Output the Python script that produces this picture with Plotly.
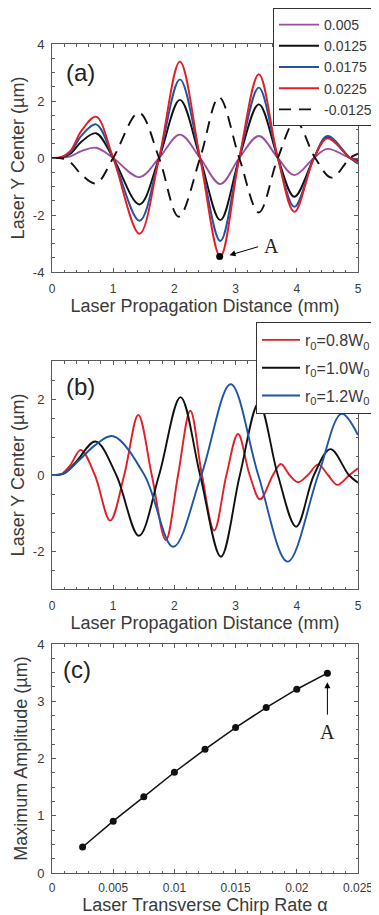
import plotly.graph_objects as go

# ---------------- data: panel (a) ----------------
xa = [0, 0.15, 0.3, 0.48, 0.72, 1.0, 1.43, 1.75, 2.09, 2.42, 2.75, 3.06, 3.38, 3.69, 3.96, 4.28, 4.5, 4.87, 5.0]
ya_0050 = [0, 0.01, 0.06, 0.24, 0.36, 0, -0.67, 0, 0.82, 0, -0.91, 0, 0.77, 0, -0.60, 0, 0.32, 0, -0.05]
ya_0125 = [0, 0.015, 0.15, 0.57, 0.87, 0, -1.63, 0, 2.04, 0, -2.18, 0, 1.88, 0, -1.36, 0, 0.74, 0, -0.10]
ya_0175 = [0, 0.02, 0.20, 0.78, 1.18, 0, -2.20, 0, 2.76, 0, -2.91, 0, 2.47, 0, -1.71, 0, 0.77, 0, -0.20]
ya_0225 = [0, 0.03, 0.25, 0.95, 1.45, 0, -2.66, 0, 3.38, 0, -3.46, 0, 2.94, 0, -1.89, 0, 0.69, 0, -0.13]
xa_neg = [0, 0.15, 0.3, 0.48, 0.72, 1.0, 1.42, 1.75, 2.07, 2.42, 2.73, 3.06, 3.38, 3.69, 3.98, 4.30, 4.57, 4.87, 5.0]
ya_neg0125 = [0, -0.01, -0.15, -0.58, -0.89, 0, 1.59, 0, -2.06, 0, 2.13, 0, -1.91, 0, 1.30, 0, -0.69, 0, 0.15]
names_a = ["0.005", "0.0125", "0.0175", "0.0225", "-0.0125"]
point_A = (2.74, -3.46)

# ---------------- data: panel (b) ----------------
xb_08 = [0, 0.15, 0.3, 0.47, 0.70, 0.95, 1.18, 1.41, 1.63, 1.86, 2.06, 2.26, 2.45, 2.65, 2.85, 3.04, 3.23, 3.40, 3.61, 3.74, 3.88, 4.02, 4.18, 4.35, 4.51, 4.66, 4.86, 5.0]
yb_08 = [0, 0.02, 0.26, 0.66, 0, -1.20, 0, 1.58, 0, -1.71, 0, 1.69, 0, -1.46, 0, 1.08, 0, -0.64, 0, 0.29, 0, -0.19, 0, 0.28, 0, -0.26, 0, 0.18]
xb_10 = [0, 0.2, 0.4, 0.71, 1.05, 1.42, 1.75, 2.10, 2.42, 2.76, 3.07, 3.38, 3.69, 3.99, 4.28, 4.55, 4.85, 5.0]
yb_10 = [0, 0.04, 0.36, 0.88, 0, -1.60, 0, 2.05, 0, -2.15, 0, 1.89, 0, -1.36, 0, 0.68, 0, -0.20]
xb_12 = [0, 0.2, 0.45, 0.7, 1.0, 1.51, 1.98, 2.44, 2.92, 3.37, 3.85, 4.35, 4.73, 5.0]
yb_12 = [0, 0.05, 0.40, 0.78, 1.02, 0, -1.89, 0, 2.39, 0, -2.28, 0, 1.61, 1.05]
names_b = ["r<sub>0</sub>=0.8W<sub>0</sub>", "r<sub>0</sub>=1.0W<sub>0</sub>", "r<sub>0</sub>=1.2W<sub>0</sub>"]

# ---------------- data: panel (c) ----------------
alpha = [0.0025, 0.005, 0.0075, 0.01, 0.0125, 0.015, 0.0175, 0.02, 0.0225]
max_amp = [0.455, 0.905, 1.33, 1.76, 2.16, 2.54, 2.89, 3.21, 3.49]

# tick labels
ya_ticks = [-4, -2, 0, 2, 4]
ya_ticktext = ["-4", "-2", "0", "2", "4"]
yb_ticks = [-2, 0, 2]
yb_ticktext = ["-2", "0", "2"]
x_ticks = [0, 1, 2, 3, 4, 5]
xc_ticks = [0, 0.005, 0.01, 0.015, 0.02, 0.025]
xc_ticktext = ["0", "0.005", "0.01", "0.015", "0.02", "0.025"]
yc_ticks = [0, 1, 2, 3, 4]

PURPLE = "#9B4F9F"
BLACK = "#111111"
BLUE = "#1F55A5"
RED = "#E41E26"
FONT = "Liberation Sans, Arial, sans-serif"
TXT = "#3a3a3a"
AX = "#5a5a5a"

fig = go.Figure()
LW = 1.9
sm = 1.0

for y, c, n in [(ya_0050, PURPLE, names_a[0]), (ya_0125, BLACK, names_a[1]),
                (ya_0175, BLUE, names_a[2]), (ya_0225, RED, names_a[3])]:
    fig.add_trace(go.Scatter(x=xa, y=y, mode="lines", name=n,
                             line=dict(color=c, width=LW, shape="spline", smoothing=sm),
                             xaxis="x", yaxis="y", legend="legend"))
fig.add_trace(go.Scatter(x=xa_neg, y=ya_neg0125, mode="lines", name=names_a[4],
                         line=dict(color=BLACK, width=LW, dash="12px,8px", shape="spline", smoothing=sm),
                         xaxis="x", yaxis="y", legend="legend"))
fig.add_trace(go.Scatter(x=[point_A[0]], y=[point_A[1]], mode="markers",
                         marker=dict(color="black", size=7), showlegend=False,
                         xaxis="x", yaxis="y"))

for i, (xx, yy, c, n) in enumerate([(xb_08, yb_08, RED, names_b[0]), (xb_10, yb_10, BLACK, names_b[1]),
                                    (xb_12, yb_12, BLUE, names_b[2])]):
    fig.add_trace(go.Scatter(x=xx, y=yy, mode="lines", name=n, legendgroup="b%d" % i,
                             line=dict(color=c, width=LW, shape="spline", smoothing=sm),
                             xaxis="x2", yaxis="y2", legend="legend2"))

fig.add_trace(go.Scatter(x=alpha, y=max_amp, mode="lines+markers", showlegend=False,
                         line=dict(color=BLACK, width=1.5),
                         marker=dict(color=BLACK, size=7),
                         xaxis="x3", yaxis="y3"))

# the page body adds an 8px offset: figure coords = reference coords - 8
OFF = 8
W, H = 379 - OFF, 915 - OFF
def dom(top, bot):
    return [1 - (bot - OFF) / H, 1 - (top - OFF) / H]

common = dict(showline=True, linecolor=AX, linewidth=1, mirror="allticks",
              ticks="inside", ticklen=4, tickcolor=AX, tickwidth=1,
              showgrid=False, zeroline=False, automargin=False,
              title_font=dict(family=FONT, size=18, color=TXT))

def xax(rng, tv, tt, dmin, anchor, title, lstand=6, tstand=3):
    d = dict(common)
    d.update(range=rng, tickmode="array", tickvals=tv, ticktext=tt, anchor=anchor,
             domain=[0, 1], ticklabelstandoff=lstand,
             tickfont=dict(family=FONT, size=12, color=TXT),
             minor=dict(dtick=dmin, ticks="inside", ticklen=2.5, tickcolor=AX),
             title=dict(text=title, standoff=tstand))
    return d

def yax(rng, tv, tt, dmin, anchor, domain, title):
    d = dict(common)
    d.update(range=rng, tickmode="array", tickvals=tv, ticktext=tt, anchor=anchor,
             domain=domain, ticklabelstandoff=4,
             tickfont=dict(family=FONT, size=13, color=TXT),
             minor=dict(dtick=dmin, ticks="inside", ticklen=2.5, tickcolor=AX),
             title=dict(text=title, standoff=4))
    return d

PL, PR = 52 - OFF, 358 - OFF
PW = PR - PL
fig.update_layout(
    width=W, height=H, autosize=False,
    margin=dict(l=PL, r=W - PR, t=0, b=0, autoexpand=False),
    paper_bgcolor="white", plot_bgcolor="white",
    font=dict(family=FONT, color=TXT),
    xaxis=xax([0, 5], x_ticks, [str(v) for v in x_ticks], 0.2, "y", "Laser Propagation Distance (mm)"),
    yaxis=yax([-4, 4], ya_ticks, ya_ticktext, 0.5, "x", dom(44, 272), "Laser Y Center (µm)"),
    xaxis2=xax([0, 5], x_ticks, [str(v) for v in x_ticks], 0.2, "y2", "Laser Propagation Distance (mm)"),
    yaxis2=yax([-3, 3], yb_ticks, yb_ticktext, 0.5, "x2", dom(361, 589), "Laser Y Center (µm)"),
    xaxis3=xax([0, 0.025], xc_ticks, xc_ticktext, 0.001, "y3", "Laser Transverse Chirp Rate α",
               lstand=4, tstand=3),
    yaxis3=yax([0, 4], yc_ticks, [str(v) for v in yc_ticks], 0.25, "x3", dom(644, 873), "Maximum Amplitude (µm)"),
    legend=dict(x=(273 - 52) / PW, y=1 - (8 - OFF) / H,
                xanchor="left", yanchor="top", bgcolor="white",
                bordercolor="#333333", borderwidth=1, itemwidth=40,
                font=dict(family=FONT, size=14, color=TXT), tracegroupgap=0),
    legend2=dict(x=(256 - 52) / PW, y=1 - (322 - OFF) / H,
                 xanchor="left", yanchor="top", bgcolor="white",
                 bordercolor="#333333", borderwidth=1, itemwidth=38,
                 font=dict(family=FONT, size=16, color=TXT), tracegroupgap=4),
    showlegend=True,
)

ann = []
ann.append(dict(x=0.46, y=3.0, xref="x", yref="y", text="(a)", showarrow=False,
                font=dict(family=FONT, size=24, color="#222222")))
ann.append(dict(x=0.46, y=2.32, xref="x2", yref="y2", text="(b)", showarrow=False,
                font=dict(family=FONT, size=24, color="#222222")))
ann.append(dict(x=0.00204, y=3.56, xref="x3", yref="y3", text="(c)", showarrow=False,
                font=dict(family=FONT, size=24, color="#222222")))
# arrow A in (a)
ann.append(dict(x=2.9, y=-3.41, ax=3.39, ay=-3.1, xref="x", yref="y", axref="x", ayref="y",
                text="", showarrow=True, arrowhead=2, arrowsize=1.2, arrowwidth=1, arrowcolor="black"))
ann.append(dict(x=3.58, y=-3.07, xref="x", yref="y", text="A", showarrow=False,
                font=dict(family="Liberation Serif, Times New Roman, serif", size=20, color="#222222")))
# arrow A in (c)
ann.append(dict(x=0.0225, y=3.33, ax=0.0225, ay=2.74, xref="x3", yref="y3", axref="x3", ayref="y3",
                text="", showarrow=True, arrowhead=2, arrowsize=1.2, arrowwidth=1, arrowcolor="black"))
ann.append(dict(x=0.0225, y=2.47, xref="x3", yref="y3", text="A", showarrow=False,
                font=dict(family="Liberation Serif, Times New Roman, serif", size=20, color="#222222")))
fig.update_layout(annotations=ann)

fig.write_html("out.html")
